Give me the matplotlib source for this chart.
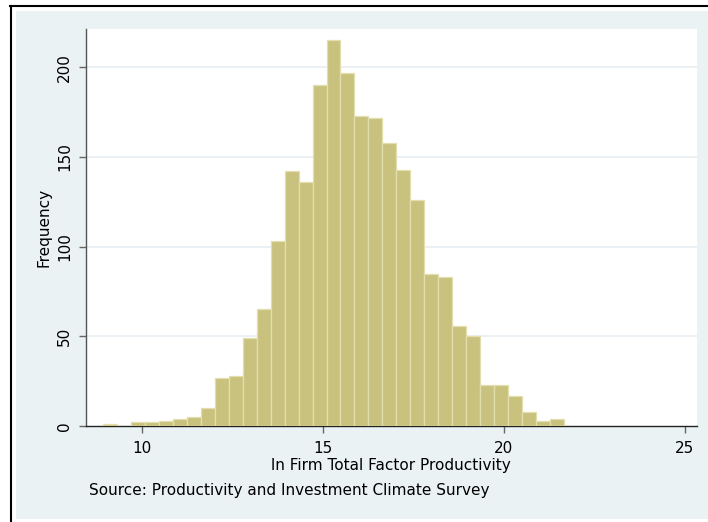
import matplotlib
matplotlib.use("Agg")
import matplotlib.pyplot as plt
from matplotlib.patches import Rectangle
from matplotlib.lines import Line2D
import numpy as np

# ---- data ----
bin_start = 8.939
bin_width = 0.3854
counts = [1, 0, 2, 2, 3, 4, 5, 10, 27, 28, 49, 65, 103, 142, 136, 190, 215,
          197, 173, 172, 158, 143, 126, 85, 83, 56, 50, 23, 23, 17, 8, 3, 4]
x_ticks = [10, 15, 20, 25]
y_ticks = [0, 50, 100, 150, 200]
x_label = "ln Firm Total Factor Productivity"
y_label = "Frequency"
note = "Source: Productivity and Investment Climate Survey"

W, H = 708, 522
def fx(px):
    return px / W
def fy(py):
    return 1 - py / H

plt.rcParams['font.family'] = ['DejaVu Sans']
fig = plt.figure(figsize=(W / 100, H / 100), dpi=100)
fig.patch.set_facecolor('white')

# graph region background
fig.add_artist(Rectangle((fx(16), fy(519)), fx(708) - fx(16), fy(11) - fy(519),
                         transform=fig.transFigure, facecolor='#EAF2F3',
                         edgecolor='none', zorder=0))
# document frame
fig.add_artist(Line2D([fx(11), fx(11)], [fy(6), fy(522)], transform=fig.transFigure,
                      color='black', lw=1.5, zorder=1))
fig.add_artist(Line2D([fx(10), fx(708)], [fy(6), fy(6)], transform=fig.transFigure,
                      color='black', lw=1.5, zorder=1))

ax = fig.add_axes([fx(86), fy(426), fx(696.7) - fx(86), fy(29) - fy(426)])
ax.set_facecolor('white')
ax.set_zorder(2)

lefts = bin_start + bin_width * np.arange(len(counts))
ax.bar(lefts, counts, width=bin_width, align='edge', color='#C9C27E',
       edgecolor='#E2DEAE', linewidth=0.9, zorder=3)

ax.set_xlim(8.461, 25.33)
ax.set_ylim(0, 221.4)
ax.set_xticks(x_ticks)
ax.set_yticks(y_ticks)
ax.set_xticklabels([str(t) for t in x_ticks])
ax.set_yticklabels([str(t) for t in y_ticks])

for yv in y_ticks[1:]:
    ax.axhline(yv, color='#E6EEF1', lw=1.2, zorder=1)

for s in ['top', 'right']:
    ax.spines[s].set_visible(False)
ax.spines['left'].set_color('#555555')
ax.spines['bottom'].set_color('#222222')
ax.spines['left'].set_linewidth(1.0)
ax.spines['bottom'].set_linewidth(1.0)

ax.tick_params(axis='both', direction='out', length=5, width=1, color='#666666',
               labelsize=11, labelcolor='black')
ax.tick_params(axis='x', pad=6)
ax.tick_params(axis='y', pad=5, labelrotation=90)
for lbl in ax.get_yticklabels():
    lbl.set_va('center')

ax.set_xlabel(x_label, fontsize=11, labelpad=1)
ax.set_ylabel(y_label, fontsize=11, labelpad=4)

fig.text(fx(89), fy(495), note, fontsize=11, ha='left', va='baseline')

fig.savefig('out.png', dpi=100)
